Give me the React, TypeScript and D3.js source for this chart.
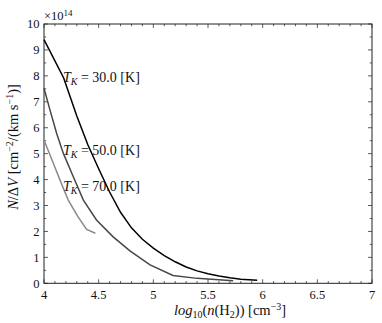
import React from "react";
import * as d3 from "d3";

// log10(n(H2)) sample points and N/dV (units of 1e14) for each kinetic temperature
const t30X = [4.0, 4.18, 4.3, 4.4, 4.5, 4.6, 4.7, 4.8, 4.9, 5.0, 5.1, 5.2, 5.3, 5.4, 5.5, 5.6, 5.7, 5.8, 5.95];
const t30Y = [9.4, 7.92, 6.45, 5.35, 4.42, 3.52, 2.74, 2.14, 1.7, 1.36, 1.07, 0.83, 0.63, 0.48, 0.37, 0.28, 0.21, 0.16, 0.12];

const t50X = [4.0, 4.055, 4.116, 4.177, 4.268, 4.36, 4.48, 4.63, 4.786, 4.97, 5.18, 5.4, 5.73];
const t50Y = [7.52, 6.68, 5.78, 5.01, 4.11, 3.21, 2.44, 1.8, 1.25, 0.71, 0.3, 0.19, 0.1];

const t70X = [4.0, 4.055, 4.116, 4.177, 4.222, 4.31, 4.39, 4.47];
const t70Y = [5.53, 4.95, 4.3, 3.66, 3.21, 2.57, 2.08, 1.93];

const seriesNames = ["30.0", "50.0", "70.0"];
const seriesColors = ["#000000", "#474747", "#8a8a8a"];

const xMajor = [4, 4.5, 5, 5.5, 6, 6.5, 7];
const yMajor = [0, 1, 2, 3, 4, 5, 6, 7, 8, 9, 10];

const W = 382;
const H = 323;
const margin = { top: 24, right: 10, bottom: 40, left: 44 };

export default function App() {
  const x = d3.scaleLinear().domain([4, 7]).range([margin.left, W - margin.right]);
  const y = d3.scaleLinear().domain([0, 10]).range([H - margin.bottom + 0.3, margin.top]);

  const line = d3
    .line<[number, number]>()
    .x((d) => x(d[0]))
    .y((d) => y(d[1]));

  const series = [
    t30X.map((v, i) => [v, t30Y[i]] as [number, number]),
    t50X.map((v, i) => [v, t50Y[i]] as [number, number]),
    t70X.map((v, i) => [v, t70Y[i]] as [number, number]),
  ];

  // label baselines sit next to the curves, in data units
  const labelY = [7.75, 4.95, 3.55];

  const xMinor = d3.range(40, 71).map((d) => d / 10).filter((d) => !xMajor.includes(d));
  const yMinor = d3.range(0, 21).map((d) => d / 2).filter((d) => !yMajor.includes(d));

  const [x0, x1] = x.range();
  const [y0, y1] = y.range();
  const font = "'Liberation Serif', 'Times New Roman', serif";

  return (
    <svg width={W} height={H} style={{ position: "absolute", left: 0, top: 0 }} fontFamily={font}>
      <rect width={W} height={H} fill="#fff" />

      {/* ticks on all four sides, pointing inward */}
      <g stroke="#333" strokeWidth={0.8}>
        {xMajor.map((t) => (
          <g key={"xM" + t}>
            <line x1={x(t)} x2={x(t)} y1={y0} y2={y0 - 4} />
            <line x1={x(t)} x2={x(t)} y1={y1} y2={y1 + 4} />
          </g>
        ))}
        {xMinor.map((t) => (
          <g key={"xm" + t}>
            <line x1={x(t)} x2={x(t)} y1={y0} y2={y0 - 2.2} />
            <line x1={x(t)} x2={x(t)} y1={y1} y2={y1 + 2.2} />
          </g>
        ))}
        {yMajor.map((t) => (
          <g key={"yM" + t}>
            <line x1={x0} x2={x0 + 4} y1={y(t)} y2={y(t)} />
            <line x1={x1} x2={x1 - 4} y1={y(t)} y2={y(t)} />
          </g>
        ))}
        {yMinor.map((t) => (
          <g key={"ym" + t}>
            <line x1={x0} x2={x0 + 2.2} y1={y(t)} y2={y(t)} />
            <line x1={x1} x2={x1 - 2.2} y1={y(t)} y2={y(t)} />
          </g>
        ))}
      </g>

      <rect x={x0} y={y1} width={x1 - x0} height={y0 - y1} fill="none" stroke="#222" strokeWidth={1} />

      {/* tick labels */}
      <g fontSize={12.5} fill="#111">
        {xMajor.map((t) => (
          <text key={"xl" + t} x={x(t)} y={299} textAnchor="middle">
            {String(t)}
          </text>
        ))}
        {yMajor.map((t) => (
          <text key={"yl" + t} x={39.5} y={y(t) + 4.3} textAnchor="end">
            {String(t)}
          </text>
        ))}
      </g>
      <text x={44} y={20} fontSize={12.5} fill="#111">
        ×10<tspan fontSize={9} dy={-4}>14</tspan>
      </text>

      {/* curves */}
      {series.map((s, i) => (
        <path key={"s" + i} d={line(s) ?? ""} fill="none" stroke={seriesColors[i]} strokeWidth={1.5} />
      ))}

      {/* curve labels */}
      {seriesNames.map((n, i) => (
        <text key={"lab" + i} x={63} y={y(labelY[i])} fontSize={14} fill="#111">
          <tspan fontStyle="italic">T</tspan>
          <tspan fontStyle="italic" fontSize={10} dy={3}>K</tspan>
          <tspan dy={-3}>{` = ${n} [K]`}</tspan>
        </text>
      ))}

      {/* axis titles */}
      <text x={230} y={315} textAnchor="middle" fontSize={14.5} fill="#111">
        <tspan fontStyle="italic">log</tspan>
        <tspan fontSize={10} dy={3}>10</tspan>
        <tspan dy={-3}>(</tspan>
        <tspan fontStyle="italic">n</tspan>
        <tspan>(H</tspan>
        <tspan fontSize={10} dy={3}>2</tspan>
        <tspan dy={-3}>)) [cm</tspan>
        <tspan fontSize={10} dy={-5}>−3</tspan>
        <tspan dy={5}>]</tspan>
      </text>
      <text transform="translate(18,147) rotate(-90)" textAnchor="middle" fontSize={14.5} fill="#111">
        <tspan fontStyle="italic">N</tspan>
        <tspan>/Δ</tspan>
        <tspan fontStyle="italic">V</tspan>
        <tspan> [cm</tspan>
        <tspan fontSize={10} dy={-5}>−2</tspan>
        <tspan dy={5}>/(km s</tspan>
        <tspan fontSize={10} dy={-5}>−1</tspan>
        <tspan dy={5}>)]</tspan>
      </text>
    </svg>
  );
}
